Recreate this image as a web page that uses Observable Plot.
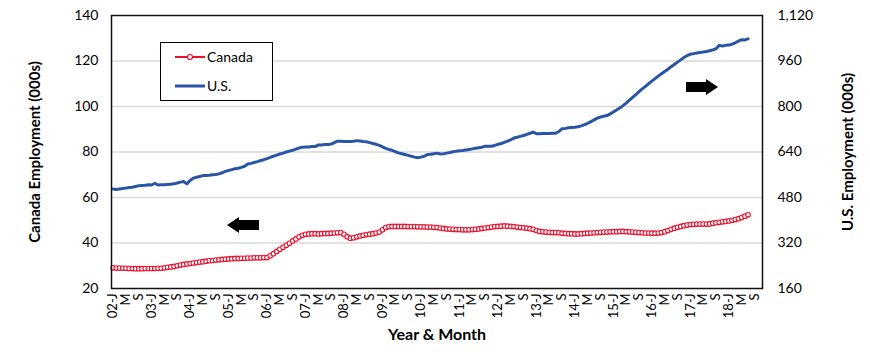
<!DOCTYPE html>
<html><head><meta charset="utf-8">
<script src="https://cdn.jsdelivr.net/npm/d3@7"></script>
<script src="https://cdn.jsdelivr.net/npm/@observablehq/plot@0.6"></script>
<style>
body{margin:0;background:#fff;}
#chart svg{font-family:Lato,"Noto Sans",sans-serif;}
</style>
</head><body><div id="chart"></div>
<script>
// Monthly data, Jan 2002 .. Jul 2018
const startYear = 2002;
const axisSlots = 203; // category slots Jan 2002 .. Nov 2018
const tickLetters = ["J","M","S"]; // Jan, May, Sep
const canada = [
  29.1,29.0,29.0,28.9,28.9,28.8,28.8,28.7,28.7,28.7,28.8,28.8,
  28.8,28.8,28.9,28.9,29.1,29.3,29.5,29.7,30.0,30.3,30.6,30.8,
  31.0,31.2,31.4,31.6,31.8,32.0,32.2,32.3,32.5,32.6,32.8,32.9,
  33.0,33.1,33.2,33.2,33.3,33.3,33.4,33.4,33.5,33.5,33.5,33.6,
  33.6,34.4,35.3,36.3,37.2,38.1,39.0,39.9,40.9,41.8,42.7,43.4,
  43.8,44.0,44.1,44.1,44.0,44.1,44.2,44.2,44.3,44.4,44.5,44.6,
  43.8,42.8,42.1,42.3,42.7,43.1,43.4,43.7,43.9,44.1,44.4,44.8,
  45.8,46.8,47.2,47.3,47.3,47.3,47.3,47.3,47.2,47.2,47.2,47.1,
  47.1,47.1,47.0,47.0,46.9,46.8,46.6,46.4,46.2,46.1,46.0,45.9,
  45.9,45.8,45.8,45.8,45.9,46.0,46.2,46.4,46.6,46.8,47.0,47.2,
  47.3,47.4,47.5,47.4,47.3,47.2,47.0,46.8,46.7,46.5,46.3,46.0,
  45.5,45.1,44.9,44.8,44.7,44.6,44.6,44.5,44.3,44.2,44.1,44.1,
  44.0,44.0,44.1,44.2,44.3,44.4,44.5,44.6,44.7,44.8,44.8,44.9,
  45.0,45.0,45.1,45.1,45.0,44.9,44.8,44.7,44.6,44.5,44.4,44.4,
  44.3,44.3,44.4,44.6,45.0,45.5,46.0,46.5,46.9,47.3,47.6,47.9,
  48.1,48.2,48.3,48.3,48.3,48.3,48.4,48.7,48.9,49.1,49.3,49.5,
  49.7,50.0,50.3,50.7,51.2,51.8,52.4
];
const us = [
  510,508,510,512,513,515,516,519,521,522,523,525,
  524,530,524,525,525,526,527,528,531,534,536,528,
  540,548,551,554,557,557,558,560,561,563,567,572,
  575,578,581,583,586,590,598,600,603,606,610,613,
  617,621,625,629,633,636,640,643,646,650,654,657,
  658,658,659,659,665,665,666,666,668,673,678,678,
  677,677,677,678,680,679,677,676,673,670,667,663,
  658,653,649,646,641,637,634,631,628,625,622,620,
  622,625,631,632,634,636,633,634,636,638,641,643,
  644,645,647,649,651,653,655,657,660,660,660,663,
  667,670,674,678,683,689,692,695,698,702,706,710,
  704,704,705,705,705,706,706,712,722,723,725,726,
  727,729,732,736,741,747,753,759,763,766,768,774,
  781,788,795,803,812,822,832,842,852,862,871,880,
  889,898,907,915,923,931,940,948,956,964,972,979,
  984,986,988,990,992,993,996,999,1003,1015,1013,1015,
  1016,1019,1024,1030,1035,1034,1038
];
const leftTicks = [20,40,60,80,100,120,140];
const rightTicks = [160,320,480,640,800,960,1120];
const gridTicks = [40,60,80,100,120];
const rightPerLeft = 8; // right axis = 8 × left axis

const rows = canada.map((c, i) => ({i, canada: c, us: us[i]}));
const xTicks = d3.range(0, axisSlots, 4);
const xTickFormat = i => {
  const m = i % 12, y = startYear + Math.floor(i / 12);
  const letter = tickLetters[m / 4];
  return m === 0 ? `${String(y).slice(2)}-${letter}` : letter;
};

const red = "#e8112d", blue = "#2a55a4";

const chart = Plot.plot({
  width: 870, height: 358,
  marginLeft: 111, marginRight: 108, marginTop: 15, marginBottom: 70,
  style: {fontFamily: "Lato, 'Noto Sans', sans-serif", background: "#fff"},
  x: {domain: [-0.5, axisSlots - 0.5], axis: null},
  y: {domain: [20, 140], axis: null},
  marks: [
    Plot.gridY(gridTicks, {stroke: "#d9d9d9", strokeOpacity: 1, strokeWidth: 1.5}),
    Plot.axisX(xTicks, {tickFormat: xTickFormat, tickRotate: -90, tickSize: 0, tickPadding: 5, fontSize: 13, fill: "#000", label: null}),
    Plot.axisY(leftTicks, {anchor: "left", tickSize: 0, tickPadding: 13, fontSize: 14, fill: "#000", label: null}),
    Plot.axisY(rightTicks.map(d => d / rightPerLeft), {anchor: "right", tickSize: 0, tickPadding: 15, fontSize: 14, fill: "#000", label: null, tickFormat: d => d3.format(",")(d * rightPerLeft)}),
    Plot.line(rows, {x: "i", y: d => d.us / rightPerLeft, stroke: blue, strokeWidth: 3}),
    Plot.line(rows, {x: "i", y: "canada", stroke: red, strokeWidth: 1.5}),
    Plot.dot(rows, {x: "i", y: "canada", r: 2.3, stroke: red, fill: "#fff", strokeWidth: 1.1}),
    Plot.frame({stroke: "#111", strokeWidth: 1.5}),
    Plot.text(["Canada Employment (000s)"], {frameAnchor: "left", textAnchor: "middle", dx: -76, rotate: -90, fontWeight: "bold", fontSize: 15, fill: "#000"}),
    Plot.text(["U.S. Employment (000s)"], {frameAnchor: "right", textAnchor: "middle", dx: 86, rotate: -90, fontWeight: "bold", fontSize: 15, fill: "#000"}),
    Plot.text(["Year & Month"], {frameAnchor: "bottom", textAnchor: "middle", dy: 51, fontWeight: "bold", fontSize: 16, fill: "#000"})
  ]
});
document.getElementById("chart").append(chart);

// Legend and direction arrows
const svg = d3.select(chart);
const lg = svg.append("g").attr("text-anchor", "start");
lg.append("rect").attr("x", 160.5).attr("y", 42.5).attr("width", 112).attr("height", 58).attr("fill", "#fff").attr("stroke", "#000").attr("stroke-width", 1);
const items = [{name: "Canada", color: red, dot: true, y: 57}, {name: "U.S.", color: blue, dot: false, y: 86}];
for (const it of items) {
  lg.append("line").attr("x1", 175).attr("x2", 205).attr("y1", it.y).attr("y2", it.y).attr("stroke", it.color).attr("stroke-width", it.dot ? 2 : 3);
  if (it.dot) lg.append("circle").attr("cx", 190).attr("cy", it.y).attr("r", 2.5).attr("fill", "#fff").attr("stroke", it.color).attr("stroke-width", 1.2);
  lg.append("text").attr("x", 207).attr("y", it.y).attr("dy", "0.35em").attr("text-anchor", "start").attr("font-size", 14).attr("fill", "#000").text(it.name);
}
function arrow(x, y, dir) {
  // x,y: tip; dir: -1 left, +1 right
  const L = 32, H = 12, s = 5, h = 8;
  const p = [[0,0],[H,-h],[H,-s],[L,-s],[L,s],[H,s],[H,h]].map(([a,b]) => [x - dir*a, y + b]);
  svg.append("path").attr("d", "M" + p.map(q => q.join(",")).join("L") + "Z").attr("fill", "#000");
}
arrow(227, 225, -1);
arrow(718, 87, 1);
</script></body></html>
